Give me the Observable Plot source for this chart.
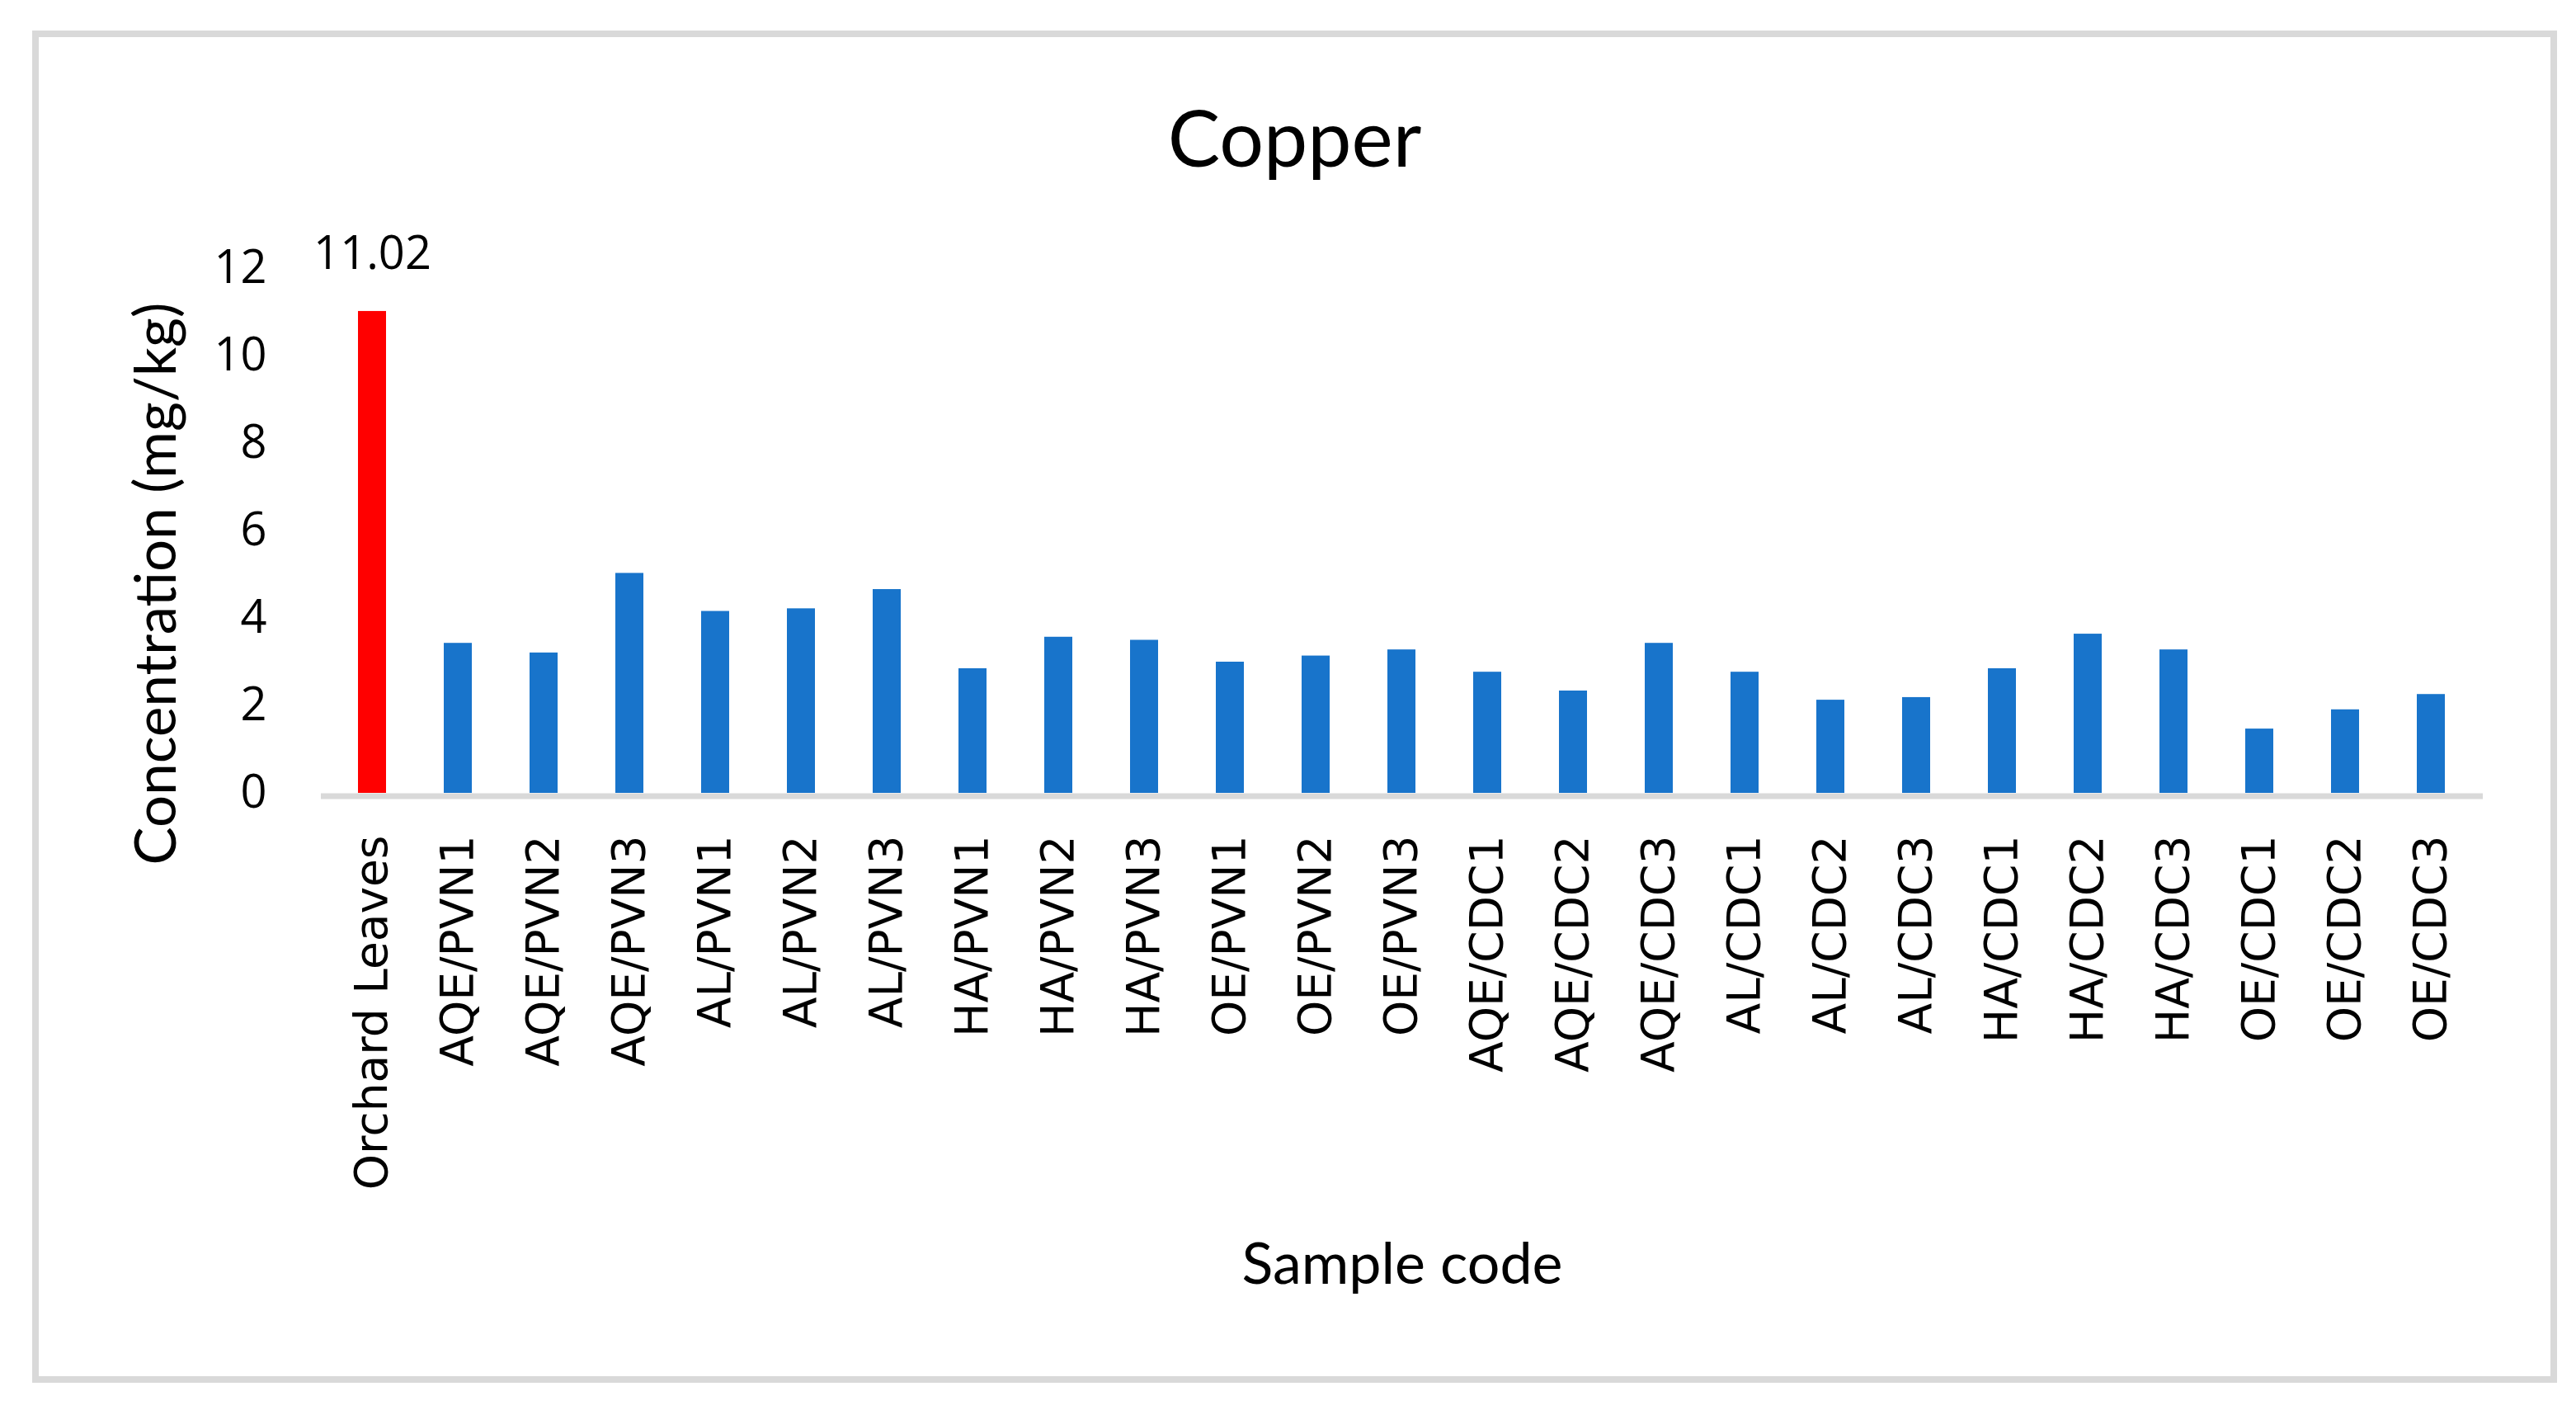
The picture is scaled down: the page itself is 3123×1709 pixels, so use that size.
<!DOCTYPE html>
<html>
<head>
<meta charset="utf-8">
<script src="https://cdn.jsdelivr.net/npm/d3@7"></script>
<script src="https://cdn.jsdelivr.net/npm/@observablehq/plot@0.6"></script>
<style>
  html, body { margin: 0; padding: 0; background: #fff; }
  #wrap { position: relative; width: 3123px; height: 1709px; overflow: hidden; background: #fff; }
  #frame { position: absolute; left: 39px; top: 37px; width: 3061px; height: 1639px; border: 8px solid #d9d9d9; box-sizing: border-box; pointer-events: none; }
  #title { position: absolute; left: 39px; width: 3061px; top: 118px; text-align: center; font-family: Lato, sans-serif; font-size: 95px; line-height: 1; color: #000; }
  #chart { position: absolute; left: 0; top: 240px; }
</style>
</head>
<body>
<div id="wrap">
  <div id="chart"></div>
  <div id="title">Copper</div>
  <div id="frame"></div>
</div>
<script>
// ---- Data ----
const samples = [
  "Orchard Leaves",
  "AQE/PVN1", "AQE/PVN2", "AQE/PVN3",
  "AL/PVN1", "AL/PVN2", "AL/PVN3",
  "HA/PVN1", "HA/PVN2", "HA/PVN3",
  "OE/PVN1", "OE/PVN2", "OE/PVN3",
  "AQE/CDC1", "AQE/CDC2", "AQE/CDC3",
  "AL/CDC1", "AL/CDC2", "AL/CDC3",
  "HA/CDC1", "HA/CDC2", "HA/CDC3",
  "OE/CDC1", "OE/CDC2", "OE/CDC3"
];
const copper = [
  11.02,
  3.43, 3.21, 5.03,
  4.16, 4.22, 4.66,
  2.85, 3.57, 3.50,
  3.00, 3.14, 3.28,
  2.77, 2.34, 3.43,
  2.77, 2.13, 2.19,
  2.85, 3.64, 3.28,
  1.47, 1.91, 2.26
];
const groups = ["Reference", "Sample"];
const groupColors = ["#ff0000", "#1874cb"];
const yTicks = [0, 2, 4, 6, 8, 10, 12];
const chartTitle = "Copper";
const yTitle = "Concentration (mg/kg)";
const xTitle = "Sample code";
const labeledSamples = ["Orchard Leaves"];

const rows = samples.map((s, i) => ({sample: s, value: copper[i], group: i === 0 ? groups[0] : groups[1]}));

document.getElementById("title").textContent = chartTitle;

const chart = Plot.plot({
  width: 3123,
  height: 1420,
  marginLeft: 389,
  marginRight: 113,
  marginTop: 85,
  marginBottom: 699,
  style: {background: "transparent", color: "#000", overflow: "visible"},
  x: {domain: samples, paddingInner: 0.67, paddingOuter: 0.335, align: 0.5, label: null},
  y: {domain: [0, 12], label: null},
  color: {domain: groups, range: groupColors},
  marks: [
    Plot.barY(rows, {x: "sample", y: "value", fill: "group"}),
    Plot.ruleY([0], {stroke: "#d9d9d9", strokeWidth: 7, dy: 3.5}),
    Plot.axisY({ticks: yTicks, tickSize: 0, tickPadding: 66, fontSize: 56, fontFamily: "Open Sans", label: null}),
    Plot.axisX({tickSize: 0, tickPadding: 51, tickRotate: -90, fontSize: 55, fontFamily: "DejaVu Sans", label: null}),
    Plot.text(rows.filter(d => labeledSamples.includes(d.sample)), {
      x: "sample", y: "value", text: d => d.value.toFixed(2),
      dy: -51, lineAnchor: "bottom", fontSize: 56, fontFamily: "Open Sans", fill: "#000"
    }),
    Plot.text([yTitle], {
      frameAnchor: "left", text: d => d, rotate: -90, dx: -199, dy: 64,
      textAnchor: "middle", lineAnchor: "middle", fontSize: 69, fontFamily: "Lato", fill: "#000"
    }),
    Plot.text([xTitle], {
      frameAnchor: "bottom", text: d => d, dy: 594,
      textAnchor: "middle", lineAnchor: "bottom", fontSize: 70, fontFamily: "Lato", fill: "#000"
    })
  ]
});
document.getElementById("chart").appendChild(chart);
</script>
</body>
</html>
